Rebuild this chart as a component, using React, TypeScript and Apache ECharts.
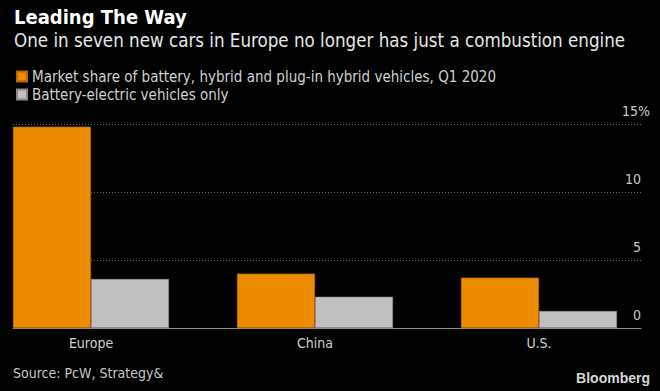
import React, { useEffect, useRef } from "react";
import * as echarts from "echarts";

const categories = ["Europe", "China", "U.S."];
const seriesNames = [
  "Market share of battery, hybrid and plug-in hybrid vehicles, Q1 2020",
  "Battery-electric vehicles only",
];
const totalShare = [14.8, 4.0, 3.7];
const batteryOnly = [3.6, 2.3, 1.25];
const yTicks = [0, 5, 10, 15];

const FONT = "'DejaVu Sans Condensed', 'DejaVu Sans', sans-serif";

export default function App() {
  const ref = useRef<HTMLDivElement>(null);
  useEffect(() => {
    if (!ref.current) return;
    const chart = echarts.init(ref.current, null, { renderer: "svg" });
    chart.setOption({
      animation: false,
      backgroundColor: "#000000",
      textStyle: { fontFamily: FONT },
      title: {
        left: 9,
        top: 2,
        text: "Leading The Way",
        subtext: "One in seven new cars in Europe no longer has just a combustion engine",
        itemGap: 4,
        textStyle: { color: "#ffffff", fontSize: 20, fontWeight: "bold", fontFamily: FONT },
        subtextStyle: { color: "#e6e6e6", fontSize: 18.6, fontFamily: FONT },
      },
      legend: {
        orient: "vertical",
        left: 11,
        top: 64,
        icon: "rect",
        itemWidth: 10,
        itemHeight: 10,
        itemGap: 3,
        selectedMode: false,
        textStyle: { color: "#d0d0d0", fontSize: 15, fontFamily: FONT },
        data: seriesNames,
      },
      grid: [
        { left: -21, width: 672, top: 124, bottom: 63, outerBoundsMode: "none" },
        { left: 13, right: 19, top: 124, bottom: 63, outerBoundsMode: "none" },
      ],
      xAxis: [
        {
          type: "category",
          gridIndex: 0,
          data: categories,
          axisLine: { show: false },
          axisTick: { show: false },
          axisLabel: { color: "#d0d0d0", fontSize: 14, margin: 8, fontFamily: FONT },
        },
        {
          type: "value",
          gridIndex: 1,
          min: 0,
          max: 1,
          axisLine: { show: true, lineStyle: { color: "#8a8a8a", width: 1 } },
          axisTick: { show: false },
          axisLabel: { show: false },
          splitLine: { show: false },
        },
      ],
      yAxis: [
        {
          type: "value",
          gridIndex: 0,
          min: 0,
          max: 15,
          show: false,
        },
        {
          type: "value",
          gridIndex: 1,
          position: "right",
          min: 0,
          max: 15,
          interval: 5,
          axisLine: { show: false },
          axisTick: { show: false },
          splitLine: {
            show: true,
            lineStyle: { color: "#6a6a6a", type: [1, 2], width: 1 },
          },
          axisLabel: {
            margin: 9,
            align: "right",
            verticalAlign: "bottom",
            formatter: (v: number) =>
              v === yTicks[yTicks.length - 1] ? `{a|${v}%}` : `{b|${v}}`,
            rich: {
              a: { color: "#c8c8c8", fontSize: 14, fontFamily: FONT, padding: [0, 0, 6, 0] },
              b: { color: "#c8c8c8", fontSize: 14, fontFamily: FONT, padding: [0, 9, 6, 0] },
            },
          },
        },
      ],
      series: [
        {
          name: seriesNames[0],
          type: "bar",
          xAxisIndex: 0,
          yAxisIndex: 0,
          data: totalShare,
          barWidth: 78,
          barGap: "0%",
          itemStyle: { color: "#ed8b00", borderColor: "#b86a00", borderWidth: 0.6 },
        },
        {
          name: seriesNames[1],
          type: "bar",
          xAxisIndex: 0,
          yAxisIndex: 0,
          data: batteryOnly,
          barWidth: 78,
          barGap: "0%",
          itemStyle: { color: "#c0c0c0", borderColor: "#8a8a8a", borderWidth: 0.6 },
        },
      ],
      graphic: [
        {
          type: "text",
          left: 13,
          top: 366,
          style: { text: "Source: PcW, Strategy&", fill: "#c8c8c8", fontSize: 14, fontFamily: FONT },
        },
        {
          type: "text",
          right: 10,
          top: 371,
          style: {
            text: "Bloomberg",
            fill: "#d8d8d8",
            fontSize: 14,
            fontWeight: "bold",
            fontFamily: "'Liberation Sans', Arial, sans-serif",
          },
        },
      ],
    });
    return () => chart.dispose();
  }, []);
  return (
    <div
      ref={ref}
      style={{ position: "fixed", left: 0, top: 0, width: 660, height: 391, background: "#000" }}
    />
  );
}
